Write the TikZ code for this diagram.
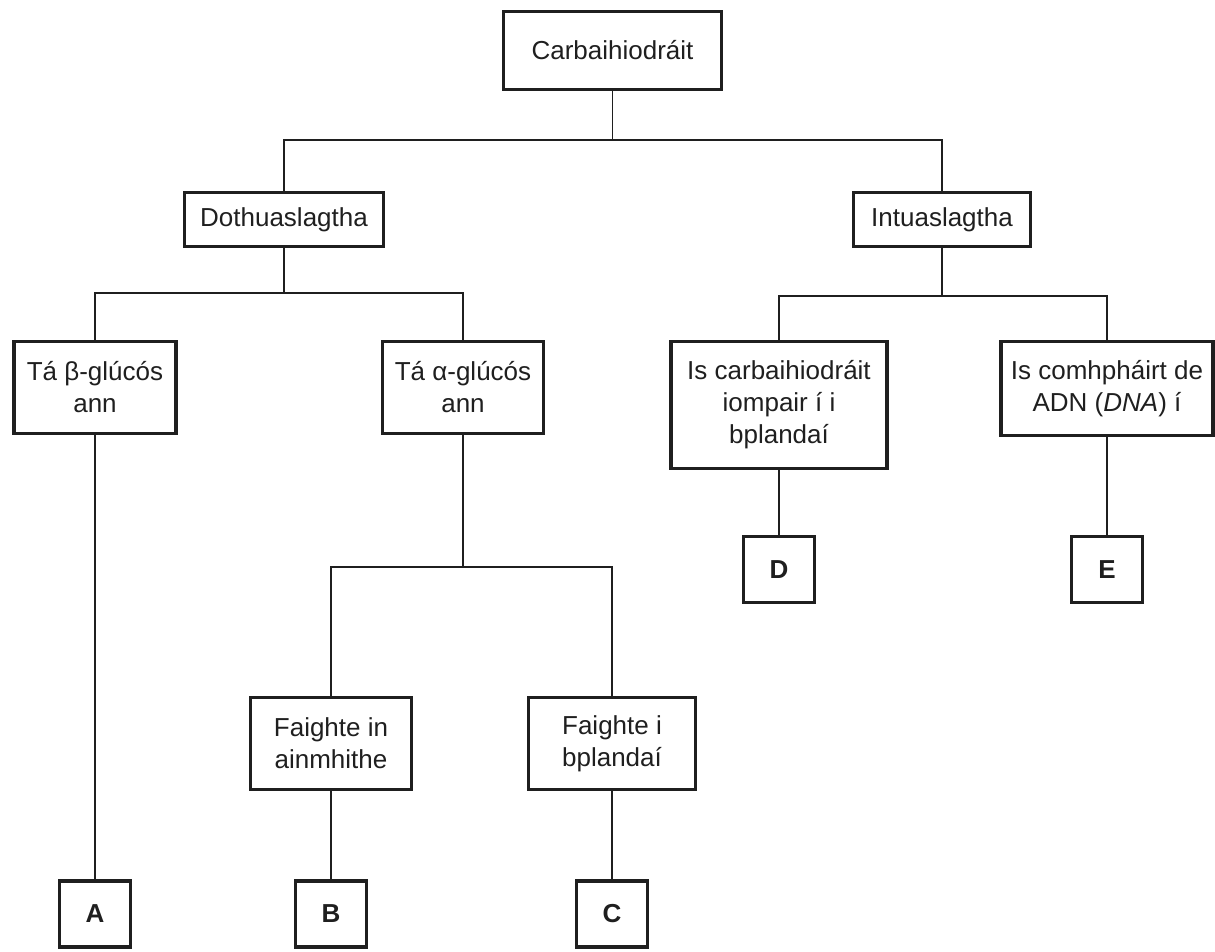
\documentclass[tikz,border=0pt]{standalone}
\usepackage{fontspec}
\setmainfont{Liberation Sans}
\begin{document}
\begin{tikzpicture}[x=1pt,y=-1pt,
  box/.style={draw=black!88, line width=3.4pt, inner sep=0pt, align=center,
    font=\fontsize{26}{32}\selectfont, text=black!88},
  letter/.style={box, font=\fontsize{26}{32}\selectfont\bfseries,
    minimum width=71pt, minimum height=66pt},
  conn/.style={draw=black!88, line width=1.1pt}]
\useasboundingbox (0,0) rectangle (1215,951);
% nodes
\node[box, minimum width=218pt, minimum height=78pt] (carb) at (612.5,50.5) {Carbaihiodráit};
\node[box, minimum width=199pt, minimum height=54pt] (doth) at (284,219.5) {Dothuaslagtha};
\node[box, minimum width=177pt, minimum height=54pt] (intu) at (942,219.5) {Intuaslagtha};
\node[box, minimum width=162pt, minimum height=92pt] (beta) at (95,387.5) {Tá β-glúcós\\ann};
\node[box, minimum width=161pt, minimum height=92pt] (alpha) at (463,387.5) {Tá α-glúcós\\ann};
\node[box, minimum width=216pt, minimum height=127pt] (isc) at (779,405) {Is carbaihiodráit\\iompair í i\\bplandaí};
\node[box, minimum width=212pt, minimum height=94pt] (adn) at (1107,388.5) {Is comhpháirt de\\ADN (\textit{DNA}) í};
\node[box, minimum width=161pt, minimum height=92pt] (fa) at (331,743.5) {Faighte in\\ainmhithe};
\node[box, minimum width=167pt, minimum height=92pt] (fp) at (612,743.5) {Faighte i\\bplandaí};
\node[letter] (A) at (95,914) {A};
\node[letter] (B) at (331,914) {B};
\node[letter] (C) at (612,914) {C};
\node[letter] (D) at (779,569.5) {D};
\node[letter] (E) at (1107,569.5) {E};
% connector levels
\coordinate (h1) at (0,140);
\coordinate (h2) at (0,293);
\coordinate (h3) at (0,296);
\coordinate (h4) at (0,567);
% connectors
\draw[conn] (carb.south) -- (carb.south |- h1);
\draw[conn] (doth.north) |- (h1 -| intu.north) -- (intu.north);
\draw[conn] (doth.south) -- (doth.south |- h2);
\draw[conn] (beta.north) |- (h2 -| alpha.north) -- (alpha.north);
\draw[conn] (intu.south) -- (intu.south |- h3);
\draw[conn] (isc.north) |- (h3 -| adn.north) -- (adn.north);
\draw[conn] (alpha.south) -- (alpha.south |- h4);
\draw[conn] (fa.north) |- (h4 -| fp.north) -- (fp.north);
\draw[conn] (beta.south) -- (A.north);
\draw[conn] (fa.south) -- (B.north);
\draw[conn] (fp.south) -- (C.north);
\draw[conn] (isc.south) -- (D.north);
\draw[conn] (adn.south) -- (E.north);
\end{tikzpicture}
\end{document}
